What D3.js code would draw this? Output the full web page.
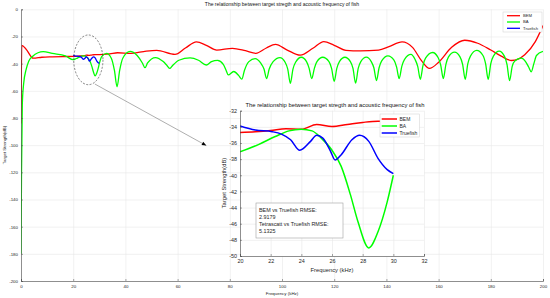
<!DOCTYPE html>
<html>
<head>
<meta charset="utf-8">
<script src="https://cdn.jsdelivr.net/npm/d3@7"></script>
<style>
  html, body { margin: 0; padding: 0; background: #fff; }
  svg { display: block; font-family: "Liberation Sans", Arial, sans-serif; }
</style>
</head>
<body>
<svg id="chart" width="550" height="298"></svg>
<script>
// ---- data: [frequency kHz, target strength dB] ----
const bemPts = [
  [0,-84],[0.3,-26.5],[2,-29.5],[4.7,-36],[8,-35.3],[12,-35],[16,-34.8],
  [20,-34.7],[21,-34.6],[22,-34.45],[23,-34.25],[24,-34.3],[25,-33.7],[26,-33.95],
  [27,-33.7],[28,-33.45],[29,-33.3],[30,-33.3],
  [34,-32.8],[37,-32],[42,-32.5],[48,-30.8],[52,-30.3],[59,-33.2],[63,-28.5],[67.2,-24],
  [71,-26.5],[75,-30],[81,-28.7],[86,-30.5],[90,-32.4],[94,-28.5],[97.5,-25.8],[102,-30],
  [107,-33.8],[112,-28.5],[116,-23.8],[120,-26.5],[124.5,-30.2],[130,-30.6],[137,-30],
  [141,-27.5],[146,-24],[150,-28],[153.5,-38],[156.5,-43.5],[160,-39],[165,-28],[170,-22.8],
  [175,-25],[180,-30],[184,-34.5],[188,-37.7],[193,-33.5],[197,-24],[200,-12]
];
const baPts = [
  [0,-180],[0.2,-120],[0.5,-70],[1,-55],[2,-44],[3,-38],[4.5,-34.5],[6.5,-32],[8.5,-31.2],
  [12,-32.5],[17,-34.3],
  [20,-37.1],[21.2,-36.2],[22.3,-35.2],[23.2,-34.5],[24,-34.3],[24.7,-34.5],[25.3,-35.4],
  [26,-36.9],[26.6,-38.9],[27.2,-42.4],[27.7,-45.8],[28.4,-49],[29,-47],[29.6,-43.3],[30,-40],
  [30.9,-34.8],[32.8,-32.4],[34.6,-36],[35.8,-45],[36.8,-57],[37.8,-45],[39,-36],[41.8,-31],
  [44.5,-34],[46.5,-39.5],[47.5,-43],[48.5,-39.5],[51.5,-35.5],[54.5,-38.5],[56,-41.5],
  [57,-43.5],[58,-41.5],[60.5,-37.5],[64.8,-35.8],[68,-37.5],[71,-41],[73,-38.5],[75.3,-37.6],
  [77.5,-40.5],[78.6,-45],[79.4,-48.3],[81.5,-45.8],[83.5,-49],[84.6,-51.4],[85.6,-45],
  [87.3,-38.5],[89.7,-36.3],[91.8,-39.5],[93.1,-44],[94.1,-51],[95.1,-44],[96.6,-38.5],[99.2,-35.5],
  [101.2,-39],[102.2,-44],[103.2,-54.5],[104.2,-44],[105.2,-39],[107.4,-35.3],
  [109.4,-38.5],[110.4,-43.5],[111.4,-51],[112.4,-43.5],[113.4,-38.5],[115.6,-35.3],
  [118,-38.5],[119,-43.5],[120,-53],[121,-43.5],[122,-38.5],[124.1,-35.3],
  [126.2,-38.5],[127.2,-43.5],[128.2,-54.4],[129.2,-43.5],[130.2,-38.5],[132.3,-35.2],
  [134.2,-38.5],[135.2,-43],[136.2,-52.5],[137.2,-43],[138.2,-38],[140.6,-34.3],
  [142.9,-37.5],[143.9,-42.5],[144.9,-51],[145.9,-42],[146.9,-37],[149.4,-33.2],
  [151,-37],[152,-42],[153,-51.5],[154,-41.5],[155,-36],[157.7,-31.8],
  [159.8,-35.5],[160.8,-41],[161.8,-51],[162.8,-40.5],[163.8,-35],[166.1,-31.5],
  [168.2,-35],[169.2,-40.5],[170.2,-51.5],[171.2,-40],[172.2,-34.5],[174.6,-30.2],
  [177,-34],[178,-40],[179,-51.5],[180,-40],[181,-34.5],[183.2,-30.8],
  [185.2,-34.5],[186.2,-40.5],[187.2,-52.5],[188.2,-42],[189.2,-38],[191.6,-36],
  [193.5,-39],[194.5,-42.5],[195.5,-46],[196.5,-40],[197.5,-34],[200,-31]
];
const fishPts = [
  [20,-33.9],[21,-34.4],[22.1,-34.6],[22.7,-34.9],[23.3,-35.6],[23.9,-36.9],[24.6,-35.8],
  [25,-35.05],[25.4,-35.4],[25.9,-37],[26.2,-38.1],[26.6,-37.45],[27.3,-35.6],[27.8,-35.05],
  [28.4,-35.8],[29,-37.9],[29.6,-39.3],[30,-39.8]
];

const seriesNames = ["BEM", "BA", "Truefish"];
const seriesColors = ["#ff0000", "#00ff00", "#0000ff"];
const mainXTicks = d3.range(0, 201, 20);
const mainYTicks = d3.range(-200, 1, 20);
const zoomXTicks = d3.range(20, 33, 2);
const zoomYTicks = d3.range(-50, -31, 2);
const titleText = "The relationship between target stregth and acoustic frequency of fish";
const rmseLines = ["BEM vs Truefish RMSE:", "2.9179", "Tetrascatt vs Truefish RMSE:", "5.1325"];

const svg = d3.select("#chart");
const txt = "#262626", grid = "#e8e8e8";
const plain = d => String(d);

// ---------------- main axes ----------------
const x = d3.scaleLinear().domain([0, 200]).range([21, 543]);
const y = d3.scaleLinear().domain([-200, 0]).range([281, 9.3]);

svg.append("clipPath").attr("id", "mainClip")
  .append("rect").attr("x", 21).attr("y", 9.3).attr("width", 522).attr("height", 271.7);

const gm = svg.append("g");
gm.append("g").attr("transform", "translate(0,281)")
  .call(d3.axisBottom(x).tickValues(mainXTicks).tickSize(-271.7).tickFormat(""))
  .call(g => g.select(".domain").remove())
  .selectAll("line").attr("stroke", grid).attr("stroke-width", 0.6);
gm.append("g").attr("transform", "translate(21,0)")
  .call(d3.axisLeft(y).tickValues(mainYTicks).tickSize(-522).tickFormat(""))
  .call(g => g.select(".domain").remove())
  .selectAll("line").attr("stroke", grid).attr("stroke-width", 0.6);

const lineMain = d3.line().x(d => x(d[0])).y(d => y(d[1])).curve(d3.curveMonotoneX);
const lm = gm.append("g").attr("clip-path", "url(#mainClip)");
[bemPts, baPts, fishPts].forEach((pts, i) => {
  lm.append("path").datum(pts).attr("d", lineMain)
    .attr("fill", "none").attr("stroke", seriesColors[i]).attr("stroke-width", 1.3);
});

gm.append("g").attr("transform", "translate(0,281)")
  .call(d3.axisBottom(x).tickValues(mainXTicks).tickFormat(plain).tickSize(-2).tickPadding(4))
  .call(g => g.select(".domain").attr("stroke", "#4d4d4d").attr("stroke-width", 0.6))
  .call(g => g.selectAll("line").attr("stroke", "#4d4d4d").attr("stroke-width", 0.5))
  .call(g => g.selectAll("text").attr("fill", txt).attr("font-size", 4.4).attr("font-family", null));
gm.append("g").attr("transform", "translate(21,0)")
  .call(d3.axisLeft(y).tickValues(mainYTicks).tickFormat(plain).tickSize(-2).tickPadding(3))
  .call(g => g.select(".domain").attr("stroke", "#4d4d4d").attr("stroke-width", 0.6))
  .call(g => g.selectAll("line").attr("stroke", "#4d4d4d").attr("stroke-width", 0.5))
  .call(g => g.selectAll("text").attr("fill", txt).attr("font-size", 4.4).attr("font-family", null));

gm.append("text").attr("x", 282).attr("y", 6).attr("text-anchor", "middle")
  .attr("font-size", 5).attr("fill", "#111").text(titleText);
gm.append("text").attr("x", 282).attr("y", 295).attr("text-anchor", "middle")
  .attr("font-size", 4.4).attr("fill", txt).text("Frequency (kHz)");
gm.append("text").attr("transform", "translate(6,145) rotate(-90)").attr("text-anchor", "middle")
  .attr("font-size", 4.4).attr("fill", txt).text("Target Strength(dB)");

// main legend
const lg = gm.append("g");
lg.append("rect").attr("x", 503).attr("y", 12).attr("width", 39).attr("height", 20)
  .attr("fill", "#fff").attr("stroke", "#cfcfcf").attr("stroke-width", 0.5);
seriesNames.forEach((n, i) => {
  const yy = 15.7 + i * 6.3;
  lg.append("line").attr("x1", 507).attr("x2", 520).attr("y1", yy).attr("y2", yy)
    .attr("stroke", seriesColors[i]).attr("stroke-width", 1.3);
  lg.append("text").attr("x", 523).attr("y", yy + 1.4).attr("font-size", 4.2)
    .attr("fill", txt).text(n);
});

// dashed ellipse around the 20-30 kHz region and arrow to the inset
gm.append("ellipse").attr("cx", x(25.8)).attr("cy", y(-37.2))
  .attr("rx", x(25.8) - x(20.2)).attr("ry", y(-55.5) - y(-37.2))
  .attr("fill", "none").attr("stroke", "#333").attr("stroke-width", 0.6)
  .attr("stroke-dasharray", "2,1.5");
const a0 = [x(28.3), y(-55)], a1 = [x(71), y(-100.3)];
gm.append("line").attr("x1", a0[0]).attr("y1", a0[1]).attr("x2", a1[0]).attr("y2", a1[1])
  .attr("stroke", "#777").attr("stroke-width", 0.6);
const ang = Math.atan2(a1[1] - a0[1], a1[0] - a0[0]);
const hl = 4.5, hw = 1.8;
const bx = a1[0] - hl * Math.cos(ang), by = a1[1] - hl * Math.sin(ang);
gm.append("path")
  .attr("d", `M${a1[0]},${a1[1]}L${bx - hw * Math.sin(ang)},${by + hw * Math.cos(ang)}L${bx + hw * Math.sin(ang)},${by - hw * Math.cos(ang)}Z`)
  .attr("fill", "#000");

// ---------------- inset axes ----------------
const xi = d3.scaleLinear().domain([20, 32]).range([240, 424]);
const yi = d3.scaleLinear().domain([-50, -32]).range([256, 110.7]);
const gi = svg.append("g");
gi.append("rect").attr("x", 240).attr("y", 110.7).attr("width", 184).attr("height", 145.3).attr("fill", "#fff");
svg.append("clipPath").attr("id", "insetClip")
  .append("rect").attr("x", 240).attr("y", 110.7).attr("width", 184).attr("height", 145.3);

gi.append("g").attr("transform", "translate(0,256)")
  .call(d3.axisBottom(xi).tickValues(zoomXTicks).tickSize(-145.3).tickFormat(""))
  .call(g => g.select(".domain").remove())
  .selectAll("line").attr("stroke", grid).attr("stroke-width", 0.6);
gi.append("g").attr("transform", "translate(240,0)")
  .call(d3.axisLeft(yi).tickValues(zoomYTicks).tickSize(-184).tickFormat(""))
  .call(g => g.select(".domain").remove())
  .selectAll("line").attr("stroke", grid).attr("stroke-width", 0.6);

const lineInset = d3.line().x(d => xi(d[0])).y(d => yi(d[1])).curve(d3.curveMonotoneX);
const li = gi.append("g").attr("clip-path", "url(#insetClip)");
[bemPts, baPts, fishPts].forEach((pts, i) => {
  li.append("path").datum(pts.filter(d => d[0] >= 20 && d[0] <= 30)).attr("d", lineInset)
    .attr("fill", "none").attr("stroke", seriesColors[i]).attr("stroke-width", 1.5);
});

gi.append("g").attr("transform", "translate(0,256)")
  .call(d3.axisBottom(xi).tickValues(zoomXTicks).tickFormat(plain).tickSize(-2).tickPadding(3.5))
  .call(g => g.select(".domain").attr("stroke", "#4d4d4d").attr("stroke-width", 0.6))
  .call(g => g.selectAll("line").attr("stroke", "#4d4d4d").attr("stroke-width", 0.5))
  .call(g => g.selectAll("text").attr("fill", txt).attr("font-size", 5.4).attr("font-family", null));
gi.append("g").attr("transform", "translate(240,0)")
  .call(d3.axisLeft(yi).tickValues(zoomYTicks).tickFormat(plain).tickSize(-2).tickPadding(3))
  .call(g => g.select(".domain").attr("stroke", "#4d4d4d").attr("stroke-width", 0.6))
  .call(g => g.selectAll("line").attr("stroke", "#4d4d4d").attr("stroke-width", 0.5))
  .call(g => g.selectAll("text").attr("fill", txt).attr("font-size", 5.4).attr("font-family", null));

gi.append("text").attr("x", 335).attr("y", 107).attr("text-anchor", "middle")
  .attr("font-size", 5.8).attr("fill", "#111").text(titleText);
gi.append("text").attr("x", 332).attr("y", 271.5).attr("text-anchor", "middle")
  .attr("font-size", 5.8).attr("fill", txt).text("Frequency (kHz)");
gi.append("text").attr("transform", "translate(226,183) rotate(-90)").attr("text-anchor", "middle")
  .attr("font-size", 5.8).attr("fill", txt).text("Target Strength(dB)");

// inset legend
const lgi = gi.append("g");
lgi.append("rect").attr("x", 380).attr("y", 114).attr("width", 39.5).attr("height", 23)
  .attr("fill", "#fff").attr("stroke", "#cfcfcf").attr("stroke-width", 0.5);
seriesNames.forEach((n, i) => {
  const yy = 119 + i * 7;
  lgi.append("line").attr("x1", 381.7).attr("x2", 397).attr("y1", yy).attr("y2", yy)
    .attr("stroke", seriesColors[i]).attr("stroke-width", 1.5);
  lgi.append("text").attr("x", 399.5).attr("y", yy + 1.8).attr("font-size", 5)
    .attr("fill", txt).text(n);
});

// RMSE text box
const tb = gi.append("g");
tb.append("rect").attr("x", 256).attr("y", 203).attr("width", 87).attr("height", 35)
  .attr("fill", "#fff").attr("stroke", "#a0a0a0").attr("stroke-width", 0.6);
rmseLines.forEach((s, i) => {
  tb.append("text").attr("x", 259).attr("y", 211.8 + i * 7.2).attr("font-size", 5.4)
    .attr("fill", txt).text(s);
});
</script>
</body>
</html>
